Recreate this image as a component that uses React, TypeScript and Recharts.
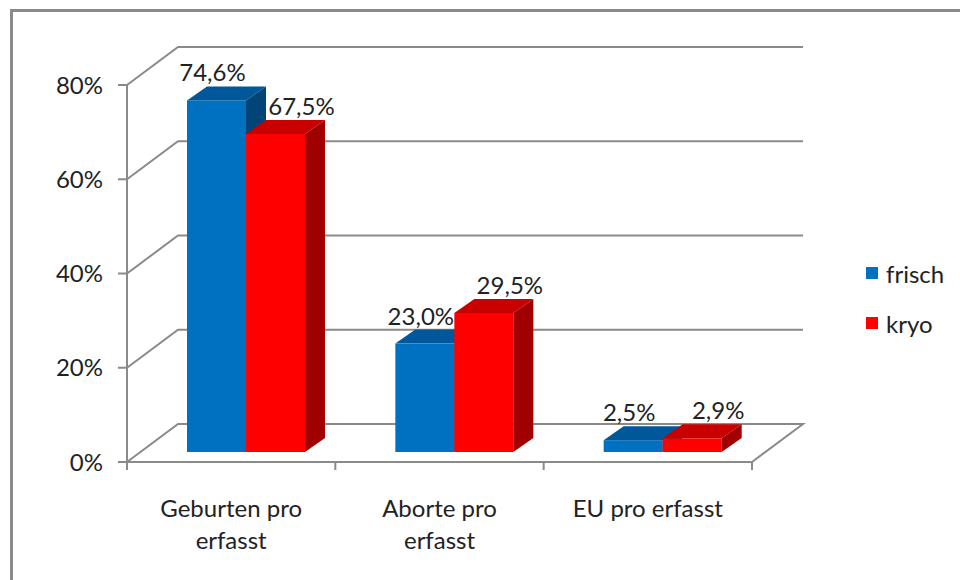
import React from "react";
import { Bar, BarChart, CartesianGrid, LabelList, Legend, XAxis, YAxis } from "recharts";

const categories = ["Geburten pro erfasst", "Aborte pro erfasst", "EU pro erfasst"];
const frisch = [74.6, 23.0, 2.5];
const kryo = [67.5, 29.5, 2.9];
const yTicks = [0, 20, 40, 60, 80];

const data = categories.map((name, i) => ({ name, frisch: frisch[i], kryo: kryo[i] }));

const FONT = "Lato, 'Open Sans', sans-serif";
const FS = 24;
const AXIS_GRAY = "#8a8a8a";
// 3d look: wall depth and bar depth in px
const WALL_DX = 51;
const WALL_DY = -38;
const BAR_SHIFT_X = 15;
const BAR_SHIFT_Y = -10;
const BAR_DX = 20;
const BAR_DY = -14;

const colors = {
  frisch: { front: "#0070c0", top: "#00589a", side: "#004478" },
  kryo: { front: "#ff0000", top: "#c80000", side: "#a00000" },
};

const pct = (v: number) => v.toFixed(1).replace(".", ",") + "%";

// greedy word wrap, max chars per line
function wrap(s: string, max = 14) {
  const lines: string[] = [];
  let cur = "";
  for (const w of s.split(" ")) {
    const next = cur ? cur + " " + w : w;
    if (next.length > max && cur) {
      lines.push(cur);
      cur = w;
    } else cur = next;
  }
  if (cur) lines.push(cur);
  return lines;
}

function Bar3D(props: any, c: { front: string; top: string; side: string }) {
  const { x, y, width, height } = props;
  if (width == null || height == null) return null;
  const fx = x + BAR_SHIFT_X;
  const fy = y + BAR_SHIFT_Y;
  const w = width;
  const h = height;
  return (
    <g>
      <rect x={fx} y={fy} width={w} height={h} fill={c.front} />
      <path
        d={`M${fx},${fy} L${fx + BAR_DX},${fy + BAR_DY} L${fx + w + BAR_DX},${fy + BAR_DY} L${fx + w},${fy} Z`}
        fill={c.top}
      />
      <path
        d={`M${fx + w},${fy} L${fx + w + BAR_DX},${fy + BAR_DY} L${fx + w + BAR_DX},${fy + h + BAR_DY} L${fx + w},${fy + h} Z`}
        fill={c.side}
      />
    </g>
  );
}

function makeLabel(dx: number) {
  return (props: any) => {
    const { x, y, width, value } = props;
    const cx = x + BAR_SHIFT_X + width / 2 + BAR_DX / 2 + dx;
    const cy = y + BAR_SHIFT_Y + BAR_DY - 5;
    return (
      <text x={cx} y={cy} textAnchor="middle" fontFamily={FONT} fontSize={FS} fill="#222">
        {pct(value)}
      </text>
    );
  };
}

function GridLine(props: any) {
  const { x1, y1, x2, y, height } = props;
  const isFloor = y != null && height != null && Math.abs(y1 - (y + height)) < 1;
  let d = `M${x1},${y1} L${x1 + WALL_DX},${y1 + WALL_DY} L${x2 + WALL_DX},${y1 + WALL_DY}`;
  if (isFloor) d += ` L${x2},${y1}`;
  return <path d={d} stroke={AXIS_GRAY} strokeWidth={2} fill="none" />;
}

function CategoryTick(props: any) {
  const { x, y, payload, index, visibleTicksCount } = props;
  const half = payload.offset || 104;
  const last = index === (visibleTicksCount ?? categories.length) - 1;
  const lines = wrap(String(payload.value));
  return (
    <g>
      <line x1={x - half} y1={y - 8} x2={x - half} y2={y} stroke={AXIS_GRAY} strokeWidth={2} />
      {last && <line x1={x + half} y1={y - 8} x2={x + half} y2={y} stroke={AXIS_GRAY} strokeWidth={2} />}
      <text x={x} y={y + 47} textAnchor="middle" fontFamily={FONT} fontSize={FS} fill="#222">
        {lines.map((l, i) => (
          <tspan key={i} x={x} dy={i === 0 ? 0 : 32}>
            {l}
          </tspan>
        ))}
      </text>
    </g>
  );
}

function LegendBox() {
  const items = [
    { name: "frisch", color: colors.frisch.front },
    { name: "kryo", color: colors.kryo.front },
  ];
  return (
    <div style={{ fontFamily: FONT, fontSize: FS, color: "#222" }}>
      {items.map((it) => (
        <div key={it.name} style={{ display: "flex", alignItems: "center", height: 50 }}>
          <span style={{ width: 12, height: 12, background: it.color, marginRight: 8, display: "inline-block" }} />
          <span>{it.name}</span>
        </div>
      ))}
    </div>
  );
}

export default function App() {
  return (
    <div style={{ position: "absolute", left: 0, top: 0, width: 960, height: 580, background: "#fff", overflow: "hidden" }}>
      <div
        style={{
          position: "absolute",
          left: 10,
          top: 9,
          width: 1000,
          height: 600,
          borderTop: `3px solid ${AXIS_GRAY}`,
          borderLeft: `3px solid ${AXIS_GRAY}`,
        }}
      />
      <BarChart
        width={960}
        height={580}
        data={data}
        margin={{ top: 85, right: 208, bottom: 58, left: 67 }}
        barSize={59}
        barGap={0}
        style={{ position: "absolute", left: 0, top: 0 }}
      >
        <CartesianGrid vertical={false} horizontal={(p: any) => <GridLine {...p} />} />
        <XAxis
          dataKey="name"
          height={60}
          axisLine={{ stroke: AXIS_GRAY, strokeWidth: 2 }}
          tickLine={false}
          interval={0}
          tick={(p: any) => <CategoryTick {...p} />}
        />
        <YAxis
          width={60}
          domain={[0, 80]}
          ticks={yTicks}
          tickFormatter={(v: number) => `${v}%`}
          axisLine={{ stroke: AXIS_GRAY, strokeWidth: 2 }}
          tickLine={{ stroke: AXIS_GRAY, strokeWidth: 2 }}
          tickSize={9}
          tickMargin={15}
          tick={{ fontFamily: FONT, fontSize: FS, fill: "#222" }}
        />
        <Legend
          layout="vertical"
          align="center"
          verticalAlign="middle"
          wrapperStyle={{ left: 866, top: 248, width: 90 }}
          content={() => <LegendBox />}
        />
        <Bar dataKey="frisch" isAnimationActive={false} shape={(p: any) => Bar3D(p, colors.frisch)}>
          <LabelList dataKey="frisch" content={makeLabel(-14)} />
        </Bar>
        <Bar dataKey="kryo" isAnimationActive={false} shape={(p: any) => Bar3D(p, colors.kryo)}>
          <LabelList dataKey="kryo" content={makeLabel(16)} />
        </Bar>
      </BarChart>
    </div>
  );
}
